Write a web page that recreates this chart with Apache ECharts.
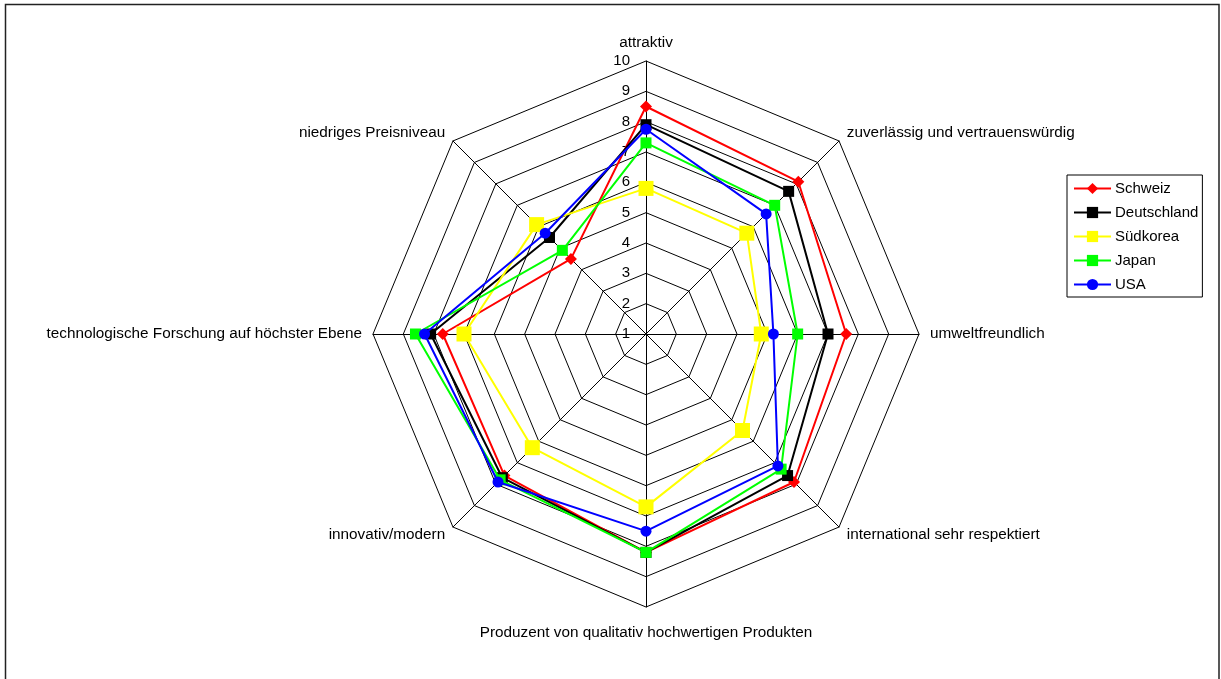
<!DOCTYPE html>
<html>
<head>
<meta charset="utf-8">
<title>Länderimage im Vergleich</title>
<script src="https://cdn.jsdelivr.net/npm/echarts@6/dist/echarts.min.js"></script>
<style>
  html, body { margin: 0; padding: 0; background: #ffffff; }
  #chart { width: 1221px; height: 679px; }
</style>
</head>
<body>
<div id="chart"></div>
<script>
// Image dimensions, listed clockwise starting at the top
const categories = [
  'attraktiv',
  'zuverlässig und vertrauenswürdig',
  'umweltfreundlich',
  'international sehr respektiert',
  'Produzent von qualitativ hochwertigen Produkten',
  'innovativ/modern',
  'technologische Forschung auf höchster Ebene',
  'niedriges Preisniveau'
];

// Ratings per country, same order as categories (scale 1–10)
const schweiz     = [8.5, 8.1, 7.6, 7.9, 8.2, 7.6, 7.7, 4.5];
const deutschland = [7.9, 7.65, 7.0, 7.6, 8.2, 7.7, 8.1, 5.5];
const suedkorea   = [5.8, 5.7, 4.8, 5.5, 6.7, 6.3, 7.0, 6.1];
const japan       = [7.3, 7.0, 6.0, 7.3, 8.2, 7.8, 8.6, 4.9];
const usa         = [7.75, 6.6, 5.2, 7.15, 7.5, 7.9, 8.3, 5.7];

const countries = ['Schweiz', 'Deutschland', 'Südkorea', 'Japan', 'USA'];
const tickLabels = ['1', '2', '3', '4', '5', '6', '7', '8', '9', '10'];

const scaleMin = 1, scaleMax = 10;
const FONT = '"Liberation Sans", Arial, sans-serif';

// ECharts places radar indicators counter-clockwise, so walk the list backwards after the first
const order = [0, 7, 6, 5, 4, 3, 2, 1];
const reorder = arr => order.map(i => arr[i]);

const styles = [
  { color: '#ff0000', symbol: 'diamond', size: 12 },
  { color: '#000000', symbol: 'rect', size: 11 },
  { color: '#ffff00', symbol: 'rect', size: 15 },
  { color: '#00ff00', symbol: 'rect', size: 11 },
  { color: '#0000ff', symbol: 'circle', size: 11 }
];
const values = [schweiz, deutschland, suedkorea, japan, usa];

const cx = 646, cy = 334, R = 273;

const radarSeries = countries.map((name, i) => ({
  type: 'radar',
  name: name,
  symbol: styles[i].symbol,
  symbolSize: styles[i].size,
  lineStyle: { color: styles[i].color, width: 2 },
  itemStyle: { color: styles[i].color, borderWidth: 0 },
  emphasis: { disabled: true },
  z: 2 + i,
  data: [{ name: name, value: reorder(values[i]) }]
}));

// Empty line series give the legend its line-with-marker icons
const legendSeries = countries.map((name, i) => ({
  type: 'line',
  name: name,
  xAxisIndex: 0,
  yAxisIndex: 0,
  symbol: styles[i].symbol,
  symbolSize: styles[i].size,
  lineStyle: { color: styles[i].color, width: 2 },
  itemStyle: { color: styles[i].color },
  data: []
}));

const chart = echarts.init(document.getElementById('chart'), null, { renderer: 'canvas' });

chart.setOption({
  animation: false,
  backgroundColor: '#ffffff',
  graphic: [{
    type: 'rect',
    shape: { x: 5.5, y: 4.5, width: 1213.5, height: 720 },
    style: { fill: 'none', stroke: '#222222', lineWidth: 1.5 },
    silent: true,
    z: 0
  }],
  legend: {
    data: countries,
    orient: 'vertical',
    left: 1067,
    top: 175,
    padding: [6, 4, 5, 6],
    itemWidth: 37,
    itemHeight: 14,
    itemGap: 9,
    borderColor: '#000000',
    borderWidth: 1,
    selectedMode: false,
    textStyle: { fontFamily: FONT, fontSize: 15, lineHeight: 14, color: '#000000', padding: [0, 0, 0, -1] }
  },
  // Value axis that carries the 1–10 ring labels along the vertical spoke
  grid: { left: cx, top: cy - R, height: R, width: 1, containLabel: false },
  xAxis: { type: 'value', show: false },
  yAxis: {
    type: 'value',
    min: scaleMin,
    max: scaleMax,
    interval: 1,
    axisLine: { show: false },
    axisTick: { show: false },
    splitLine: { show: false },
    axisLabel: {
      margin: 16,
      fontFamily: FONT,
      fontSize: 15,
      color: '#000000',
      formatter: v => tickLabels[Math.round(v) - scaleMin]
    }
  },
  radar: {
    center: [cx, cy],
    radius: R,
    startAngle: 90,
    shape: 'polygon',
    splitNumber: scaleMax - scaleMin,
    nameGap: 11,
    indicator: reorder(categories).map(c => ({ name: c, min: scaleMin, max: scaleMax })),
    axisName: {
      color: '#000000',
      fontFamily: FONT,
      fontSize: 15.3,
      formatter: n => n === categories[4] ? '{b|' + n + '}' : n,
      rich: {
        b: { fontFamily: FONT, fontSize: 15.3, color: '#000000', padding: [7, 0, 0, 0] }
      }
    },
    axisLine: { lineStyle: { color: '#000000', width: 1 } },
    splitLine: { lineStyle: { color: '#000000', width: 1 } },
    splitArea: { show: false },
    axisTick: { show: false },
    axisLabel: { show: false }
  },
  series: legendSeries.concat(radarSeries)
});
</script>
</body>
</html>
